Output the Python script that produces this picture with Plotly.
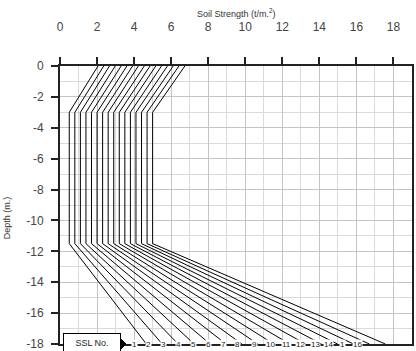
import plotly.graph_objects as go

# SSL numbers
ssl_no = list(range(1, 17))
# depths of break points (m.)
depths = [0, -3, -11.5, -18]
# soil strength at each depth for each SSL line
x_top = [2.05, 2.36, 2.67, 2.98, 3.30, 3.61, 3.92, 4.23, 4.55, 4.86, 5.17, 5.48, 5.80, 6.11, 6.42, 6.74]
x_mid = [0.5, 0.8, 1.1, 1.4, 1.7, 2.0, 2.3, 2.6, 2.9, 3.2, 3.5, 3.8, 4.1, 4.4, 4.7, 5.0]
x_bot = [4.66, 5.52, 6.38, 7.24, 8.10, 8.96, 9.82, 10.68, 11.54, 12.40, 13.26, 14.12, 14.98, 15.84, 16.70, 17.56]
# label texts and positions along bottom axis
label_text = ["1", "2", "3", "4", "5", "6", "7", "8", "9", "10", "11", "12", "13", "14", "1", "16"]
label_x = [4.0, 4.8, 5.6, 6.4, 7.2, 8.0, 8.8, 9.6, 10.5, 11.35, 12.2, 13.0, 13.8, 14.5, 15.25, 16.05]
# axis ticks
x_ticks = [0, 2, 4, 6, 8, 10, 12, 14, 16, 18]
y_ticks = [0, -2, -4, -6, -8, -10, -12, -14, -16, -18]

FONT = "Liberation Sans, Arial, sans-serif"

fig = go.Figure()
for i, n in enumerate(ssl_no):
    fig.add_trace(go.Scatter(
        x=[x_top[i], x_mid[i], x_mid[i], x_bot[i]],
        y=depths,
        mode="lines",
        line=dict(color="black", width=1),
        name=f"SSL {n}",
        showlegend=False,
        hoverinfo="skip",
    ))

annotations = []
for t, lx in zip(label_text, label_x):
    annotations.append(dict(
        x=lx, y=-18, xref="x", yref="y", text=t, showarrow=False,
        font=dict(family=FONT, size=8, color="#222"),
        bgcolor="white", borderpad=0, xanchor="center", yanchor="middle",
    ))

annotations.append(dict(
    x=1.71, y=-17.95, xref="x", yref="y", text="SSL No.", showarrow=False,
    font=dict(family=FONT, size=9, color="#222"),
    bgcolor="white", bordercolor="black", borderwidth=1, borderpad=1,
    width=54, height=16, xanchor="center", yanchor="middle",
))
annotations.append(dict(
    x=0.5, y=1.19, xref="paper", yref="paper",
    text="Soil Strength (t/m.<sup>2</sup>)", showarrow=False,
    font=dict(family=FONT, size=9, color="#333"),
    xanchor="center", yanchor="middle",
))
annotations.append(dict(
    x=-0.15, y=0.453, xref="paper", yref="paper",
    text="Depth (m.)", showarrow=False, textangle=-90,
    font=dict(family=FONT, size=9, color="#333"),
    xanchor="center", yanchor="middle",
))

shapes = [dict(
    type="path", xref="paper", yref="paper",
    path="M 0.1534,0.0108 L 0.1719,0.0108 L 0.1719,0.0198 L 0.1875,0 L 0.1719,-0.0198 L 0.1719,-0.0108 L 0.1534,-0.0108 Z",
    fillcolor="black", line=dict(color="black", width=1), layer="above",
)]

fig.update_layout(
    width=416, height=351,
    margin=dict(l=60, r=4, t=66, b=7, autoexpand=False),
    paper_bgcolor="white", plot_bgcolor="white",
    font=dict(family=FONT, size=12, color="#333"),
    annotations=annotations, shapes=shapes,
    xaxis=dict(
        side="top", range=[0, 19],
        tickmode="array", tickvals=x_ticks, ticktext=[str(v) for v in x_ticks],
        showline=True, mirror=True, linecolor="#222", linewidth=2,
        ticks="outside", ticklen=7, tickwidth=2, tickcolor="#222",
        ticklabelstandoff=21, ticklabeloverflow="allow", automargin=False,
        showgrid=True, gridcolor="#c4c4c4", gridwidth=1, zeroline=False,
        minor=dict(dtick=1, tick0=0, showgrid=True, gridcolor="#dadada", ticks=""),
        tickfont=dict(family=FONT, size=12, color="#444"),
    ),
    yaxis=dict(
        range=[-18, 0],
        tickmode="array", tickvals=y_ticks, ticktext=[str(v) for v in y_ticks],
        showline=True, mirror=True, linecolor="#222", linewidth=2,
        ticks="outside", ticklen=7, tickwidth=2, tickcolor="#222",
        ticklabelstandoff=5, ticklabeloverflow="allow", automargin=False,
        showgrid=True, gridcolor="#c4c4c4", gridwidth=1, zeroline=False,
        minor=dict(dtick=1, tick0=0, showgrid=True, gridcolor="#dadada", ticks=""),
        tickfont=dict(family=FONT, size=12, color="#444"),
    ),
)

fig.write_html(
    "out.html",
    config={"displayModeBar": False},
    post_script="document.body.style.margin='0';document.body.style.padding='0';",
)
